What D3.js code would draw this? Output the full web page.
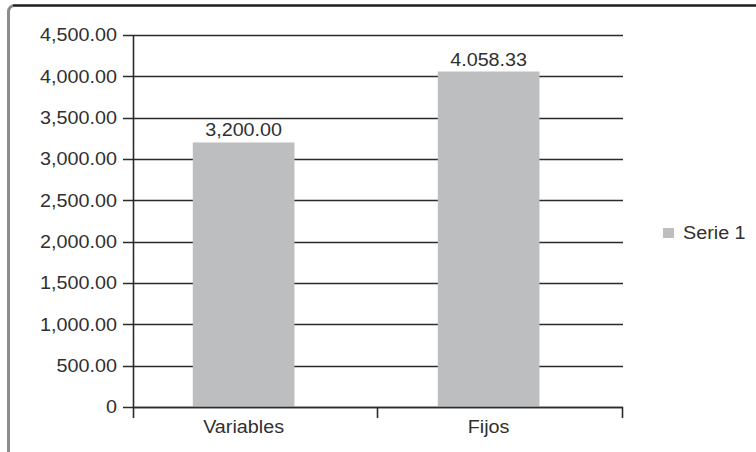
<!DOCTYPE html>
<html>
<head>
<meta charset="utf-8">
<script src="https://cdn.jsdelivr.net/npm/d3@7"></script>
<style>
  html, body { margin: 0; padding: 0; background: #fff; }
  svg { display: block; }
  text { font-family: "Liberation Sans", Arial, sans-serif; font-size: 17.5px; fill: #303030; }
</style>
</head>
<body>
<svg id="chart" width="756" height="452"></svg>
<script>
// Cost breakdown by type
const categories = ["Variables", "Fijos"];
const values = [3200.00, 4058.33];
const valueLabels = ["3,200.00", "4.058.33"];
const seriesName = "Serie 1";
const yTicks = [0, 500, 1000, 1500, 2000, 2500, 3000, 3500, 4000, 4500];
const yTickLabels = ["0", "500.00", "1,000.00", "1,500.00", "2,000.00", "2,500.00", "3,000.00", "3,500.00", "4,000.00", "4,500.00"];

const svg = d3.select("#chart");
const W = 756, H = 452;
const plot = { left: 133, right: 623, top: 35, bottom: 407 };
const barColor = "#bdbec0";
const lineColor = "#2b2b2b";
const stretch = 1.13; // wide lettering

// Places a text node at (px, py) with horizontally widened glyphs
function place(sel, px, py) {
  sel.attr("x", 0).attr("y", 0)
    .attr("transform", (d, i) => `translate(${px(d, i)},${py(d, i)}) scale(${stretch},1)`);
}

// Outer frame: gray left edge, dark top edge, rounded corner
svg.append("rect")
  .attr("x", 8.5).attr("y", 5.5)
  .attr("width", W + 40).attr("height", H + 40)
  .attr("rx", 6)
  .attr("fill", "#fff")
  .attr("stroke", "#8c8c8c")
  .attr("stroke-width", 3);
svg.append("line")
  .attr("x1", 13).attr("x2", W)
  .attr("y1", 5.5).attr("y2", 5.5)
  .attr("stroke", "#1e1e1e")
  .attr("stroke-width", 2);

const y = d3.scaleLinear().domain([0, 4500]).range([plot.bottom, plot.top]);
const x = d3.scaleBand().domain(categories).range([plot.left, plot.right]).padding(0);

// Horizontal gridlines with their left tick marks
svg.append("g").selectAll("line")
  .data(yTicks)
  .join("line")
  .attr("x1", plot.left - 10).attr("x2", plot.right)
  .attr("y1", d => Math.round(y(d)) + 0.5).attr("y2", d => Math.round(y(d)) + 0.5)
  .attr("stroke", lineColor)
  .attr("stroke-width", 1.6);

// Y tick labels
svg.append("g").selectAll("text")
  .data(yTicks)
  .join("text")
  .attr("dy", "0.36em")
  .attr("text-anchor", "end")
  .text((d, i) => yTickLabels[i])
  .call(place, () => plot.left - 16, d => y(d));

// Bars
const barOffset = 0.244, barFrac = 0.415;
const barCenter = i => x(categories[i]) + x.bandwidth() * (barOffset + barFrac / 2);
svg.append("g").selectAll("rect")
  .data(values)
  .join("rect")
  .attr("x", (d, i) => x(categories[i]) + x.bandwidth() * barOffset)
  .attr("width", x.bandwidth() * barFrac)
  .attr("y", d => y(d))
  .attr("height", d => y(0) - y(d))
  .attr("fill", barColor);

// Value labels above bars
svg.append("g").selectAll("text")
  .data(values)
  .join("text")
  .attr("text-anchor", "middle")
  .text((d, i) => valueLabels[i])
  .call(place, (d, i) => barCenter(i), d => y(d) - 6);

// Y axis line (extends down to the tick length below zero)
svg.append("line")
  .attr("x1", plot.left + 0.5).attr("x2", plot.left + 0.5)
  .attr("y1", plot.top).attr("y2", plot.bottom + 11)
  .attr("stroke", lineColor).attr("stroke-width", 1.6);

// X axis line
svg.append("line")
  .attr("x1", plot.left).attr("x2", plot.right)
  .attr("y1", Math.round(y(0)) + 0.5).attr("y2", Math.round(y(0)) + 0.5)
  .attr("stroke", lineColor).attr("stroke-width", 1.6);

// Category boundary ticks
const bounds = categories.map(c => x(c) + x.bandwidth());
svg.append("g").selectAll("line")
  .data(bounds)
  .join("line")
  .attr("x1", d => Math.round(d) - 0.5).attr("x2", d => Math.round(d) - 0.5)
  .attr("y1", plot.bottom).attr("y2", plot.bottom + 11)
  .attr("stroke", lineColor).attr("stroke-width", 1.6);

// Category labels
svg.append("g").selectAll("text")
  .data(categories)
  .join("text")
  .attr("text-anchor", "middle")
  .text(d => d)
  .call(place, (d, i) => barCenter(i), () => plot.bottom + 26);

// Legend
const legend = svg.append("g").attr("transform", "translate(663,228)");
legend.append("rect")
  .attr("width", 11).attr("height", 10)
  .attr("fill", barColor);
legend.append("text")
  .attr("dy", "0.36em")
  .text(seriesName)
  .call(place, () => 20, () => 5);
</script>
</body>
</html>
